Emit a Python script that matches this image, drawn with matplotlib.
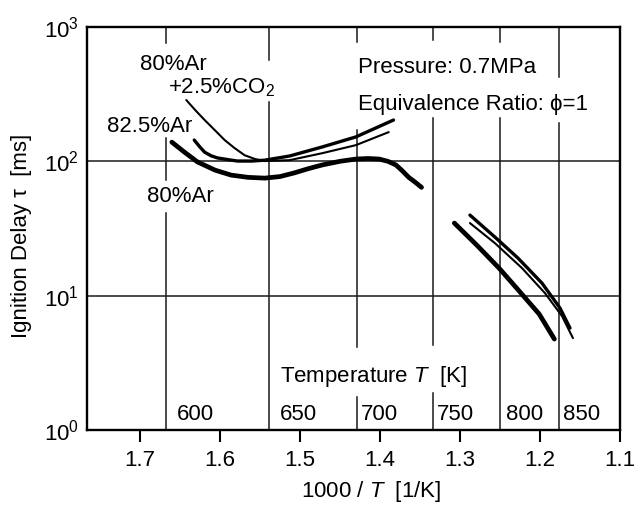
import matplotlib
matplotlib.use('Agg')
import matplotlib.pyplot as plt
from matplotlib.ticker import LogFormatterMathtext, NullLocator

plt.rcParams['font.family'] = ['Liberation Sans', 'DejaVu Sans']
plt.rcParams['mathtext.fontset'] = 'custom'
plt.rcParams['mathtext.rm'] = 'Liberation Sans'
plt.rcParams['mathtext.it'] = 'Liberation Sans:italic'
plt.rcParams['mathtext.default'] = 'regular'

# ---------------- data ----------------
ar80_low_x = [1.660, 1.645, 1.628, 1.606, 1.586, 1.565, 1.544, 1.525, 1.507, 1.490, 1.472,
              1.450, 1.430, 1.415, 1.401, 1.390, 1.380, 1.372, 1.364, 1.356, 1.348]
ar80_low_y = [139, 118, 99, 86, 79, 76, 75, 77, 82, 88, 94, 100, 104, 105, 104, 100, 94, 85,
              76, 70, 64]
ar80_high_x = [1.307, 1.279, 1.251, 1.227, 1.201, 1.182]
ar80_high_y = [34.7, 23.8, 16.0, 11.0, 7.3, 4.75]

ar825_low_x = [1.632, 1.625, 1.619, 1.611, 1.603, 1.590, 1.578, 1.560, 1.544, 1.513, 1.472,
               1.430, 1.383]
ar825_low_y = [144, 128, 117, 110, 106, 103, 100.5, 100.5, 102, 109.5, 128, 152, 203]
ar825_high_x = [1.2875, 1.2563, 1.2275, 1.1975, 1.175, 1.1625]
ar825_high_y = [39.8, 27.3, 19.05, 12.4, 8.09, 5.74]

co2_low_x = [1.642, 1.630, 1.619, 1.606, 1.594, 1.582, 1.569, 1.556, 1.544, 1.513, 1.472,
             1.430, 1.389]
co2_low_y = [286, 238, 203, 170, 144, 126, 111, 104, 100.5, 102, 115, 132, 165]
co2_high_x = [1.2875, 1.2563, 1.2225, 1.1938, 1.1725, 1.1588]
co2_high_y = [34.7, 24.6, 16.05, 10.45, 7.05, 4.83]

temps_K = [600, 650, 700, 750, 800, 850]
x_ticks = [1.7, 1.6, 1.5, 1.4, 1.3, 1.2, 1.1]
x_tick_labels = ['1.7', '1.6', '1.5', '1.4', '1.3', '1.2', '1.1']
y_ticks = [1, 10, 100, 1000]

# ---------------- layout ----------------
W, H = 637, 507
L, R, T, B = 87, 620, 27, 430
fig = plt.figure(figsize=(W / 100, H / 100), dpi=100)
ax = fig.add_axes([L / W, 1 - B / H, (R - L) / W, (B - T) / H])


def fy(py):
    return (B - py) / (B - T)


def fx(px):
    return (px - L) / (R - L)


ax.set_yscale('log')
ax.set_ylim(1, 1000)
ax.set_xlim(1.766, 1.1)

# grid (vertical segments with gaps, pixel rows from the reference)
gaps = {
    600: [(27, 43), (138, 180), (213, 430)],
    650: [(27, 60), (102, 430)],
    700: [(27, 42), (130, 347), (397, 430)],
    750: [(27, 40), (118, 345), (393, 430)],
    800: [(27, 42), (118, 430)],
    850: [(27, 77), (123, 430)],
}
tr = ax.get_xaxis_transform()
for t in temps_K:
    for (a, b) in gaps[t]:
        ax.plot([1000.0 / t, 1000.0 / t], [fy(a), fy(b)], color='#1a1a1a', lw=1.1,
                transform=tr, zorder=1)
for yv in [10, 100]:
    ax.axhline(yv, color='#1a1a1a', lw=1.1, zorder=1)

# curves
kw = dict(color='black', solid_capstyle='round', solid_joinstyle='round', zorder=3)
ax.plot(ar80_low_x, ar80_low_y, lw=3.4, **kw)
ax.plot(ar80_high_x, ar80_high_y, lw=3.4, **kw)
ax.plot(ar825_low_x, ar825_low_y, lw=2.4, **kw)
ax.plot(ar825_high_x, ar825_high_y, lw=2.4, **kw)
ax.plot(co2_low_x, co2_low_y, lw=1.5, **kw)
ax.plot(co2_high_x, co2_high_y, lw=1.5, **kw)

fs = 16
# ticks
ax.set_xticks(x_ticks)
ax.set_xticklabels(x_tick_labels)
ax.set_yticks(y_ticks)
ax.yaxis.set_major_formatter(LogFormatterMathtext())
ax.yaxis.set_minor_locator(NullLocator())
ax.xaxis.set_minor_locator(NullLocator())
ax.tick_params(axis='x', direction='out', length=8.6, width=1.5, pad=6, labelsize=fs)
ax.tick_params(axis='y', length=0, pad=6, labelsize=fs)
for s in ax.spines.values():
    s.set_linewidth(1.7)

# annotations
ax.text(fx(140), fy(70), '80%Ar', transform=ax.transAxes, fontsize=fs, va='baseline')
ax.text(fx(168), fy(93), '+2.5%CO$_2$', transform=ax.transAxes, fontsize=fs, va='baseline')
ax.text(fx(107), fy(132), '82.5%Ar', transform=ax.transAxes, fontsize=fs, va='baseline')
ax.text(fx(147), fy(202), '80%Ar', transform=ax.transAxes, fontsize=fs, va='baseline')
ax.text(fx(358), fy(73), 'Pressure: 0.7MPa', transform=ax.transAxes, fontsize=fs, va='baseline')
ax.text(fx(358), fy(110), 'Equivalence Ratio: \u03d5=1', transform=ax.transAxes, fontsize=fs,
        va='baseline')

# temperature labels
t_offsets_px = [10, 11, 4, 4, 6, 4]
for t, off in zip(temps_K, t_offsets_px):
    ax.annotate(str(t), xy=(1000.0 / t, fy(420)), xycoords=tr, xytext=(off * 0.72, 0),
                textcoords='offset points', fontsize=fs, va='baseline', ha='left')
ax.text(fx(280), fy(382), 'Temperature $\\mathit{T}$  [K]', transform=ax.transAxes,
        fontsize=fs, va='baseline')

fig.text(371 / W, 1 - 492 / H, '1000 / $\\mathit{T}$  [1/K]', fontsize=fs, ha='center', va='center')
fig.text(22 / W, 1 - 236 / H, 'Ignition Delay \u03c4  [ms]', fontsize=fs, ha='center', va='center',
         rotation=90)

fig.savefig('out.png', dpi=100)
